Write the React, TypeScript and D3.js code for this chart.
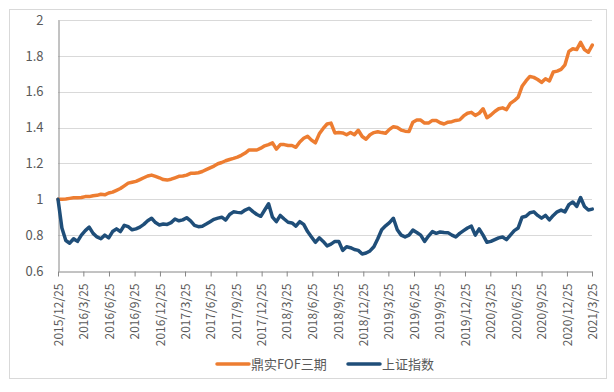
import React, { useEffect, useRef } from "react";
import * as d3 from "d3";

// weekly data sampled every two weeks, starting 2015/12/25
const startDate = new Date(2015, 11, 25);
const endDate = new Date(2021, 2, 25);

const fofValues = [
	1.0, 1.0, 1.002, 1.005, 1.008, 1.008, 1.01, 1.015, 1.015, 1.02,
	1.022, 1.028, 1.025, 1.035, 1.04, 1.05, 1.06, 1.075, 1.09, 1.095,
	1.1, 1.11, 1.12, 1.13, 1.135, 1.128, 1.12, 1.11, 1.107, 1.112,
	1.12, 1.128, 1.13, 1.135, 1.145, 1.145, 1.148, 1.155, 1.165, 1.175,
	1.185, 1.198, 1.205, 1.215, 1.222, 1.228, 1.235, 1.245, 1.258, 1.275,
	1.275, 1.275, 1.285, 1.298, 1.305, 1.315, 1.28, 1.305, 1.305, 1.3,
	1.3, 1.29, 1.32, 1.34, 1.352, 1.33, 1.315, 1.365, 1.395, 1.42,
	1.425, 1.37, 1.372, 1.37, 1.36, 1.372, 1.36, 1.385, 1.35, 1.335,
	1.36, 1.372, 1.377, 1.372, 1.368, 1.39, 1.405, 1.4, 1.386, 1.38,
	1.378, 1.43, 1.442, 1.442, 1.425, 1.425, 1.44, 1.44, 1.427, 1.42,
	1.43, 1.433, 1.44, 1.443, 1.465, 1.48, 1.485, 1.468, 1.48, 1.505,
	1.455, 1.47, 1.49, 1.505, 1.51, 1.5, 1.535, 1.55, 1.57, 1.63,
	1.66, 1.685, 1.68, 1.668, 1.652, 1.672, 1.66, 1.71, 1.715, 1.725,
	1.75, 1.825, 1.84, 1.835, 1.875, 1.835, 1.82, 1.86
];

const shValues = [
	1.0, 0.84, 0.77, 0.755, 0.78, 0.765, 0.8, 0.825, 0.845, 0.81,
	0.79, 0.78, 0.8, 0.785, 0.82, 0.835, 0.82, 0.855, 0.847, 0.83,
	0.835, 0.845, 0.86, 0.88, 0.894, 0.87, 0.857, 0.862, 0.86, 0.87,
	0.89, 0.88, 0.885, 0.897, 0.88, 0.855, 0.847, 0.85, 0.862, 0.875,
	0.888, 0.895, 0.9, 0.884, 0.915, 0.93, 0.927, 0.925, 0.94, 0.95,
	0.931, 0.915, 0.905, 0.94, 0.975, 0.9, 0.875, 0.91, 0.89, 0.872,
	0.868, 0.85, 0.875, 0.86, 0.82, 0.79, 0.76, 0.785, 0.765, 0.74,
	0.75, 0.765, 0.765, 0.715, 0.735, 0.73, 0.72, 0.715, 0.695, 0.7,
	0.712, 0.735, 0.78, 0.83, 0.852, 0.87, 0.894, 0.83, 0.8, 0.79,
	0.8, 0.828, 0.815, 0.8, 0.765, 0.795, 0.82, 0.81, 0.818, 0.815,
	0.814, 0.8, 0.79, 0.81, 0.825, 0.84, 0.85, 0.8, 0.835, 0.8,
	0.76, 0.765, 0.775, 0.785, 0.79, 0.775, 0.8, 0.825, 0.84, 0.9,
	0.905, 0.925, 0.93, 0.91, 0.895, 0.91, 0.885, 0.91, 0.93, 0.94,
	0.93, 0.97, 0.985, 0.96, 1.01, 0.96, 0.94, 0.945
];

const tickLabels = [
	"2015/12/25", "2016/3/25", "2016/6/25", "2016/9/25", "2016/12/25",
	"2017/3/25", "2017/6/25", "2017/9/25", "2017/12/25", "2018/3/25",
	"2018/6/25", "2018/9/25", "2018/12/25", "2019/3/25", "2019/6/25",
	"2019/9/25", "2019/12/25", "2020/3/25", "2020/6/25", "2020/9/25",
	"2020/12/25", "2021/3/25"
];

const yTicks = [0.6, 0.8, 1, 1.2, 1.4, 1.6, 1.8, 2];

const seriesNames = ["鼎实FOF三期", "上证指数"];
const colors = ["#ED7D31", "#1F4E79"];

const W = 614;
const H = 392;
const margin = { top: 20, right: 22, bottom: 121, left: 58 };
const FONT = "'Noto Sans CJK SC', 'Noto Sans', sans-serif";

export default function App() {
	const ref = useRef<SVGSVGElement>(null);

	useEffect(() => {
		const svg = d3.select(ref.current);
		svg.selectAll("*").remove();

		const x = d3
			.scaleTime()
			.domain([startDate, endDate])
			.range([margin.left, W - margin.right]);
		const y = d3
			.scaleLinear()
			.domain([0.6, 2])
			.range([H - margin.bottom, margin.top]);

		//chart frame
		svg.append("rect")
			.attr("x", 9.5)
			.attr("y", 9.5)
			.attr("width", 597)
			.attr("height", 369)
			.attr("fill", "#fff")
			.attr("stroke", "#d9d9d9");

		//gridlines
		svg.append("g")
			.selectAll("line")
			.data(yTicks.slice(1))
			.join("line")
			.attr("x1", margin.left)
			.attr("x2", W - margin.right)
			.attr("y1", d => Math.round(y(d)) + 0.5)
			.attr("y2", d => Math.round(y(d)) + 0.5)
			.attr("stroke", "#d9d9d9");

		//y axis
		const yAxis = d3
			.axisLeft(y)
			.tickValues(yTicks)
			.tickSize(0)
			.tickPadding(15)
			.tickFormat(d => String(+d));
		const gy = svg.append("g")
			.attr("transform", `translate(${margin.left + 0.5},0)`)
			.call(yAxis);
		gy.select(".domain").attr("stroke", "#868686");
		gy.selectAll("text")
			.attr("fill", "#595959")
			.attr("font-size", 13)
			.attr("font-family", FONT);

		//x axis
		const tickDates = tickLabels.map(s => {
			const [yy, mm, dd] = s.split("/").map(Number);
			return new Date(yy, mm - 1, dd);
		});
		const xAxis = d3
			.axisBottom(x)
			.tickValues(tickDates)
			.tickSize(5)
			.tickSizeOuter(0)
			.tickFormat((d, i) => tickLabels[i]);
		const gx = svg.append("g")
			.attr("transform", `translate(0,${H - margin.bottom + 0.5})`)
			.call(xAxis);
		gx.select(".domain").attr("stroke", "#868686");
		gx.selectAll("line").attr("stroke", "#868686");
		gx.selectAll("text")
			.attr("fill", "#595959")
			.attr("font-size", 12)
			.attr("font-family", FONT)
			.attr("transform", "rotate(-90)")
			.attr("text-anchor", "end")
			.attr("dy", "0.35em")
			.attr("x", -12)
			.attr("y", 0);

		//lines
		const dates = fofValues.map((_, i) => d3.timeDay.offset(startDate, i * 14));
		const lineGen = d3
			.line<number>()
			.x((d, i) => x(dates[i]))
			.y(d => y(d));
		[fofValues, shValues].forEach((vals, i) => {
			svg.append("path")
				.datum(vals)
				.attr("d", lineGen)
				.attr("fill", "none")
				.attr("stroke", colors[i])
				.attr("stroke-width", 3.5)
				.attr("stroke-linejoin", "round")
				.attr("stroke-linecap", "round");
		});

		//legend
		const legendX = [217, 348];
		const legend = svg.append("g").attr("transform", "translate(0,364)");
		seriesNames.forEach((name, i) => {
			legend.append("line")
				.attr("x1", legendX[i])
				.attr("x2", legendX[i] + 32)
				.attr("y1", 0)
				.attr("y2", 0)
				.attr("stroke", colors[i])
				.attr("stroke-width", 3.5)
				.attr("stroke-linecap", "round");
			legend.append("text")
				.attr("x", legendX[i] + 34)
				.attr("y", 0)
				.attr("dy", "0.35em")
				.attr("fill", "#595959")
				.attr("font-size", 13)
				.attr("font-family", FONT)
				.text(name);
		});
	}, []);

	return (
		<svg
			ref={ref}
			width={W}
			height={H}
			style={{ position: "absolute", left: 0, top: 0 }}
		/>
	);
}
